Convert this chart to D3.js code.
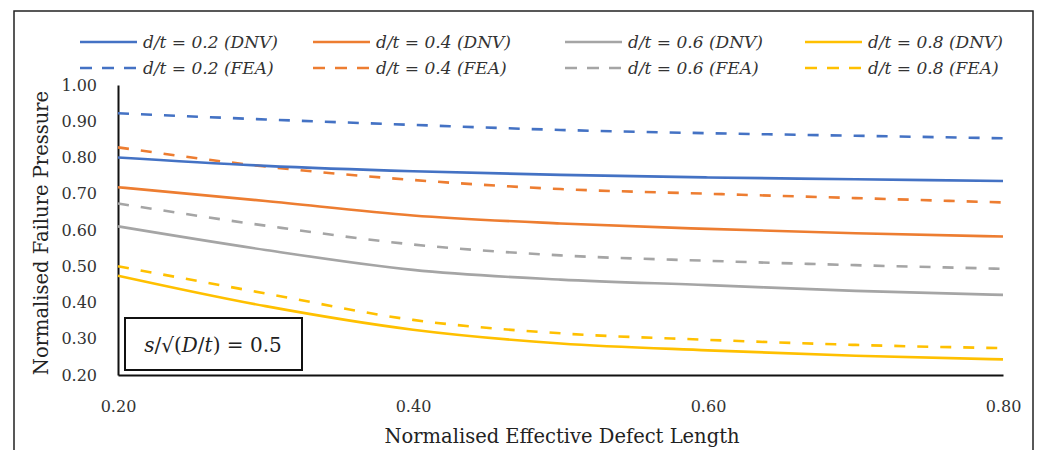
<!DOCTYPE html>
<html>
<head>
<meta charset="utf-8">
<script src="https://cdn.jsdelivr.net/npm/d3@7"></script>
<style>
body { margin: 0; background: #fff; }
svg { display: block; }
</style>
</head>
<body>
<svg width="1040" height="450"></svg>
<script>
// normalised effective defect length
var xValues = [0.2, 0.3, 0.4, 0.5, 0.6, 0.7, 0.8];
// normalised failure pressure, DNV (solid) and FEA (dashed)
var dnv02 = [0.800, 0.777, 0.762, 0.752, 0.745, 0.740, 0.735];
var dnv04 = [0.718, 0.680, 0.640, 0.618, 0.603, 0.591, 0.582];
var dnv06 = [0.610, 0.545, 0.490, 0.463, 0.448, 0.432, 0.421];
var dnv08 = [0.474, 0.390, 0.325, 0.287, 0.268, 0.253, 0.243];
var fea02 = [0.922, 0.905, 0.890, 0.876, 0.867, 0.860, 0.853];
var fea04 = [0.828, 0.775, 0.738, 0.713, 0.700, 0.688, 0.676];
var fea06 = [0.673, 0.612, 0.560, 0.530, 0.515, 0.503, 0.493];
var fea08 = [0.500, 0.425, 0.352, 0.315, 0.297, 0.283, 0.274];
var seriesNames = ["d/t = 0.2", "d/t = 0.4", "d/t = 0.6", "d/t = 0.8"];
var xTicks = [0.2, 0.4, 0.6, 0.8];
var yTicks = [0.2, 0.3, 0.4, 0.5, 0.6, 0.7, 0.8, 0.9, 1.0];

var colors = ["#4472C4", "#ED7D31", "#A5A5A5", "#FFC000"];
var dnvSeries = [dnv02, dnv04, dnv06, dnv08];
var feaSeries = [fea02, fea04, fea06, fea08];

var svg = d3.select("svg");
var font = "'DejaVu Serif', serif";

// outer frame
svg.append("rect").attr("x", 14).attr("y", 11).attr("width", 1019).attr("height", 460)
  .attr("fill", "none").attr("stroke", "#222").attr("stroke-width", 1.5);

var xScale = d3.scaleLinear().domain([0.2, 0.8]).range([118, 1003]);
var yScale = d3.scaleLinear().domain([0.2, 1.0]).range([375, 85]);

var yAxis = d3.axisLeft(yScale).tickValues(yTicks).tickSize(0).tickPadding(21)
  .tickFormat(d3.format(".2f"));
var xAxis = d3.axisBottom(xScale).tickValues(xTicks).tickSize(0).tickPadding(26)
  .tickFormat(d3.format(".2f"));

var gy = svg.append("g").attr("transform", "translate(118,0)").call(yAxis);
var gx = svg.append("g").attr("transform", "translate(0,375)").call(xAxis);
[gy, gx].forEach(function(g) {
  g.select(".domain").attr("stroke", "#111").attr("stroke-width", 2);
  g.selectAll("text").attr("font-family", font).attr("font-size", 16).attr("fill", "#333");
});

var line = d3.line()
  .x(function(d, i) { return xScale(xValues[i]); })
  .y(function(d) { return yScale(d); })
  .curve(d3.curveMonotoneX);

feaSeries.forEach(function(s, i) {
  svg.append("path").attr("d", line(s)).attr("fill", "none")
    .attr("stroke", colors[i]).attr("stroke-width", 2.6).attr("stroke-dasharray", "11,12");
});
dnvSeries.forEach(function(s, i) {
  svg.append("path").attr("d", line(s)).attr("fill", "none")
    .attr("stroke", colors[i]).attr("stroke-width", 2.6);
});

// legend
var legX = [80, 313, 565, 805];
var legRows = [{ y: 42, tag: "(DNV)", dash: null }, { y: 68, tag: "(FEA)", dash: "12,10" }];
legRows.forEach(function(r) {
  seriesNames.forEach(function(name, i) {
    svg.append("line").attr("x1", legX[i]).attr("x2", legX[i] + 57)
      .attr("y1", r.y).attr("y2", r.y).attr("stroke", colors[i]).attr("stroke-width", 2.6)
      .attr("stroke-dasharray", r.dash);
    svg.append("text").attr("x", legX[i] + 63).attr("y", r.y + 6)
      .attr("font-family", font).attr("font-style", "italic").attr("font-size", 17)
      .attr("fill", "#333").text(name + " " + r.tag);
  });
});

// annotation box
svg.append("rect").attr("x", 125).attr("y", 318).attr("width", 177).attr("height", 52)
  .attr("fill", "#fff").attr("stroke", "#111").attr("stroke-width", 2);
var ann = svg.append("text").attr("x", 213).attr("y", 352).attr("text-anchor", "middle")
  .attr("font-family", font).attr("font-size", 20).attr("fill", "#222");
ann.append("tspan").attr("font-style", "italic").text("s");
ann.append("tspan").text("/√(");
ann.append("tspan").attr("font-style", "italic").text("D");
ann.append("tspan").text("/");
ann.append("tspan").attr("font-style", "italic").text("t");
ann.append("tspan").text(") = 0.5");

// axis titles
svg.append("text").attr("transform", "translate(48,233) rotate(-90)")
  .attr("text-anchor", "middle").attr("font-family", font).attr("font-size", 19.5)
  .attr("fill", "#222").text("Normalised Failure Pressure");
svg.append("text").attr("x", 562).attr("y", 443).attr("text-anchor", "middle")
  .attr("font-family", font).attr("font-size", 19.5).attr("fill", "#222")
  .text("Normalised Effective Defect Length");
</script>
</body>
</html>
